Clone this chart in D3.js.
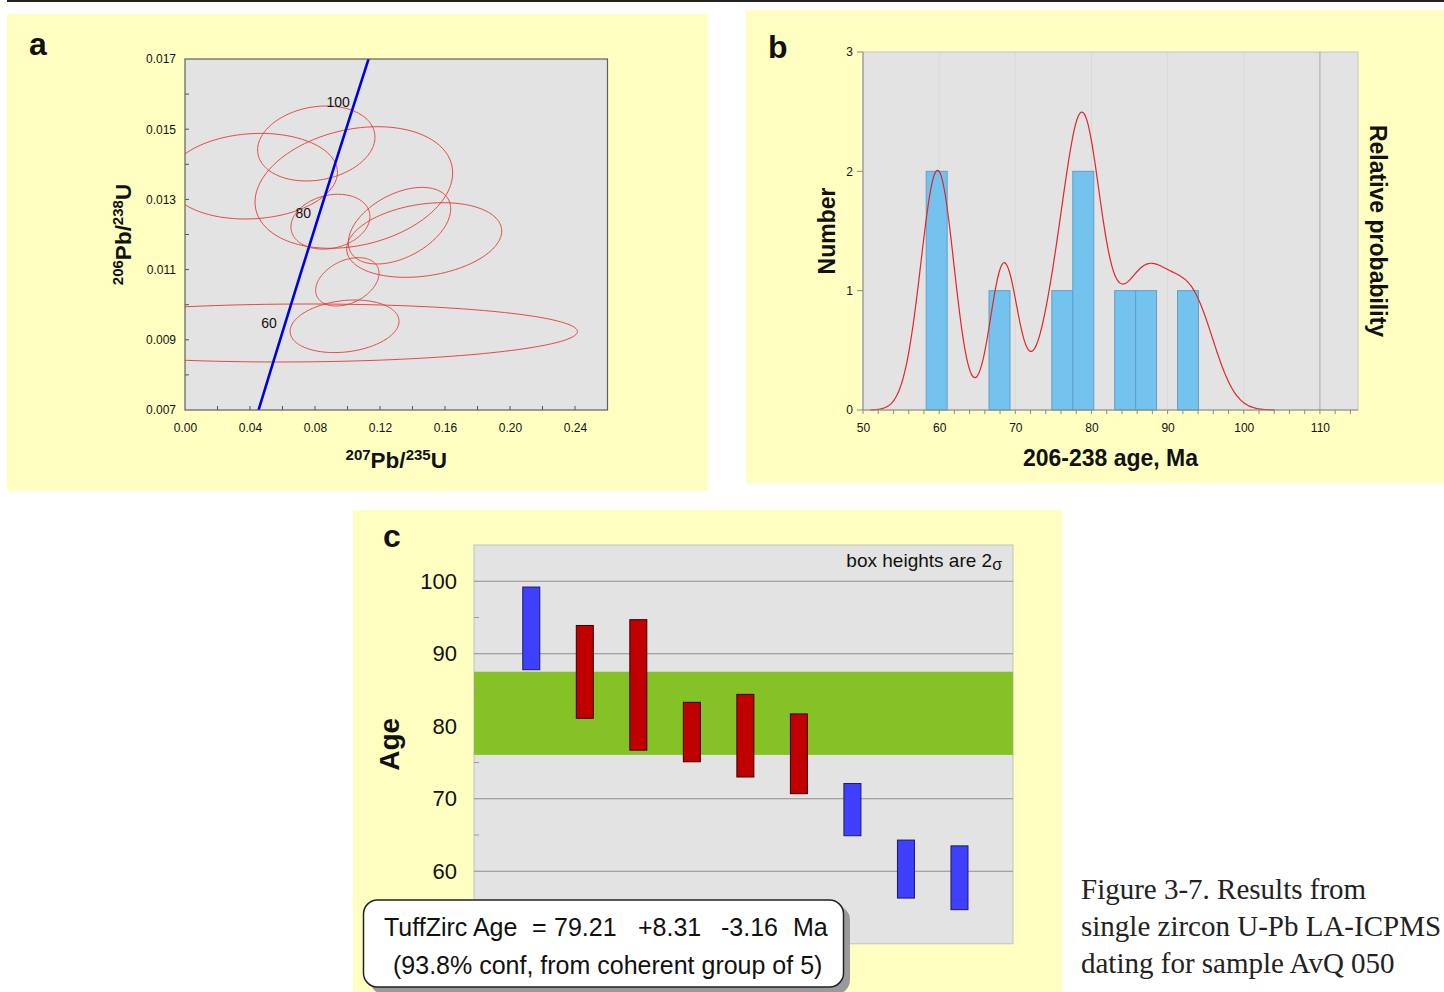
<!DOCTYPE html>
<html>
<head>
<meta charset="utf-8">
<script src="https://cdn.jsdelivr.net/npm/d3@7"></script>
<style>
  body { margin: 0; background: #ffffff; }
  svg { display: block; }
</style>
</head>
<body>
<svg id="fig" width="1444" height="992"></svg>
<script>
// ---------- Panel a: concordia diagram ----------
// Concordia reference points: age (Ma), 207Pb/235U, 206Pb/238U
const concAges = [40, 50, 60, 70, 80, 90, 100, 110];
const concX = [0.040180, 0.050475, 0.060872, 0.071371, 0.081975, 0.092683, 0.103498, 0.114419];
const concY = [0.0062243, 0.0077864, 0.0093510, 0.0109179, 0.0124873, 0.0140592, 0.0156334, 0.0172102];
const concLabelAges = [60, 80, 100];

// Zircon analyses: ratio, error half-widths and error correlation
const pb207u235 = [0.0808, 0.1039, 0.0418, 0.0895, 0.1320, 0.1472, 0.0999, 0.0982, 0.0670];
const err207    = [0.0361, 0.0608, 0.0520, 0.0243, 0.0315, 0.0477, 0.0195, 0.0335, 0.1745];
const pb206u238 = [0.014593, 0.013339, 0.013661, 0.012365, 0.012251, 0.011843, 0.010652, 0.009385, 0.009194];
const err206    = [0.001068, 0.001732, 0.001219, 0.000781, 0.001091, 0.001063, 0.000689, 0.000749, 0.000826];
const rhoVals   = [0.17, 0.24, 0.09, 0.19, 0.44, 0.24, 0.35, 0.19, 0.05];

const aXTickLabels = [0.00, 0.04, 0.08, 0.12, 0.16, 0.20, 0.24];
const aYTickLabels = [0.007, 0.009, 0.011, 0.013, 0.015, 0.017];

// ---------- Panel b / c: single-grain 206/238 ages ----------
const grainAges  = [93.5, 87.5, 85.7, 79.2, 78.7, 76.2, 68.5, 60.3, 59.1];
const grainErr2s = [5.7, 6.4, 9.0, 4.1, 5.7, 5.5, 3.6, 4.0, 4.4];
const inGroup    = [false, true, true, true, true, true, false, false, false];

const binStart = 58.3;
const binWidth = 2.75;
const bXTickLabels = [50, 60, 70, 80, 90, 100, 110];
const bYTickLabels = [0, 1, 2, 3];

// TuffZirc result
const tuffAge = 79.21;
const tuffPlus = 8.31;
const tuffMinus = 3.16;
const tuffConf = 93.8;
const groupSize = 5;
const cYTickLabels = [60, 70, 80, 90, 100];

const captionLines = [
  "Figure 3-7. Results from",
  "single zircon U-Pb LA-ICPMS",
  "dating for sample AvQ 050"
];

// ---------- drawing ----------
const SANS = '"Liberation Sans", Arial, Helvetica, sans-serif';
const SERIF = '"Liberation Serif", "Times New Roman", serif';
const YELLOW = "#ffffc2";
const PLOTBG = "#e3e3e3";

const svg = d3.select("#fig");
svg.append("rect").attr("width", 1444).attr("height", 992).attr("fill", "#ffffff");
svg.append("rect").attr("x", 7).attr("y", 0).attr("width", 1437).attr("height", 2).attr("fill", "#222222");

const defs = svg.append("defs");

// ===== Panel a =====
const pa = svg.append("g");
pa.append("rect").attr("x", 7).attr("y", 14).attr("width", 701).attr("height", 477).attr("fill", YELLOW);

const ax = d3.scaleLinear().domain([0, 0.26]).range([185, 607.5]);
const ay = d3.scaleLinear().domain([0.007, 0.017]).range([410, 59]);

defs.append("clipPath").attr("id", "clipA").append("rect")
  .attr("x", ax(0)).attr("y", ay(0.017))
  .attr("width", ax(0.26) - ax(0)).attr("height", ay(0.007) - ay(0.017));

pa.append("rect")
  .attr("x", ax(0)).attr("y", ay(0.017))
  .attr("width", ax(0.26) - ax(0)).attr("height", ay(0.007) - ay(0.017))
  .attr("fill", PLOTBG);

// error ellipses
function ellipsePoints(i) {
  const r = rhoVals[i], q = Math.sqrt(1 - r * r);
  return d3.range(0, 360, 2).map(deg => {
    const t = deg * Math.PI / 180;
    return [
      ax(pb207u235[i] + err207[i] * Math.cos(t)),
      ay(pb206u238[i] + err206[i] * (r * Math.cos(t) + q * Math.sin(t)))
    ];
  });
}
const ellLine = d3.line().curve(d3.curveLinearClosed);
const clipA = pa.append("g").attr("clip-path", "url(#clipA)");
clipA.selectAll("path.ell").data(d3.range(pb207u235.length)).join("path")
  .attr("class", "ell")
  .attr("d", i => ellLine(ellipsePoints(i)))
  .attr("fill", "none")
  .attr("stroke", "#e23a34")
  .attr("stroke-width", 1)
  .attr("stroke-opacity", 0.9);

// concordia curve
const concLine = d3.line().x((d, i) => ax(concX[i])).y((d, i) => ay(concY[i])).curve(d3.curveCatmullRom);
clipA.append("path").datum(concAges)
  .attr("d", concLine)
  .attr("fill", "none")
  .attr("stroke", "#0000e6")
  .attr("stroke-width", 2.6);

pa.selectAll("text.age").data(concLabelAges).join("text")
  .attr("class", "age")
  .attr("x", a => ax(concX[concAges.indexOf(a)]) - 15)
  .attr("y", a => ay(concY[concAges.indexOf(a)]) + 0.5)
  .attr("text-anchor", "middle")
  .attr("font-family", SANS).attr("font-size", 14).attr("fill", "#111")
  .text(d => d);

// inward ticks
pa.append("g").selectAll("line").data(d3.range(1, 13).map(k => k * 0.02)).join("line")
  .attr("x1", d => ax(d)).attr("x2", d => ax(d))
  .attr("y1", ay(0.007)).attr("y2", ay(0.007) - 4)
  .attr("stroke", "#555").attr("stroke-width", 1);
pa.append("g").selectAll("line").data(d3.range(1, 10).map(k => 0.007 + k * 0.001)).join("line")
  .attr("x1", ax(0)).attr("x2", ax(0) + 4)
  .attr("y1", d => ay(d)).attr("y2", d => ay(d))
  .attr("stroke", "#555").attr("stroke-width", 1);

pa.append("rect")
  .attr("x", ax(0)).attr("y", ay(0.017))
  .attr("width", ax(0.26) - ax(0)).attr("height", ay(0.007) - ay(0.017))
  .attr("fill", "none").attr("stroke", "#606060").attr("stroke-width", 1.2);

const aXAxis = pa.append("g").attr("transform", `translate(0,${ay(0.007)})`)
  .call(d3.axisBottom(ax).tickValues(aXTickLabels).tickSize(0).tickPadding(13).tickFormat(d3.format(".2f")));
const aYAxis = pa.append("g").attr("transform", `translate(${ax(0)},0)`)
  .call(d3.axisLeft(ay).tickValues(aYTickLabels).tickSize(0).tickPadding(9).tickFormat(d3.format(".3f")));
[aXAxis, aYAxis].forEach(g => {
  g.select(".domain").remove();
  g.selectAll("text").attr("font-family", SANS).attr("font-size", 12).attr("fill", "#111");
});

// axis titles with isotope superscripts
function isotopeTitle(g, sup1, el1, sup2, el2) {
  const t = g.append("text").attr("font-family", SANS).attr("font-weight", "bold").attr("fill", "#111");
  t.append("tspan").attr("font-size", 15).attr("baseline-shift", "55%").text(sup1);
  t.append("tspan").attr("font-size", 22.5).text(el1 + "/");
  t.append("tspan").attr("font-size", 15).attr("baseline-shift", "55%").text(sup2);
  t.append("tspan").attr("font-size", 22.5).text(el2);
  return t;
}
isotopeTitle(pa, "207", "Pb", "235", "U")
  .attr("x", (ax(0) + ax(0.26)) / 2).attr("y", 468).attr("text-anchor", "middle");
isotopeTitle(pa, "206", "Pb", "238", "U")
  .attr("text-anchor", "middle")
  .attr("transform", `translate(131,${(ay(0.007) + ay(0.017)) / 2}) rotate(-90)`);

pa.append("text").attr("x", 29).attr("y", 55)
  .attr("font-family", SANS).attr("font-weight", "bold").attr("font-size", 32).attr("fill", "#111")
  .text("a");

// ===== Panel b =====
const pb = svg.append("g");
pb.append("rect").attr("x", 746).attr("y", 10).attr("width", 698).attr("height", 473).attr("fill", YELLOW);

const bx = d3.scaleLinear().domain([50, 115]).range([863, 1358]);
const by = d3.scaleLinear().domain([0, 3]).range([410, 52]);

pb.append("rect")
  .attr("x", bx(50)).attr("y", by(3))
  .attr("width", bx(115) - bx(50)).attr("height", by(0) - by(3))
  .attr("fill", PLOTBG).attr("stroke", "#c4c4c4").attr("stroke-width", 1);

// vertical grid
pb.append("g").selectAll("line").data(bXTickLabels.slice(1)).join("line")
  .attr("x1", d => bx(d)).attr("x2", d => bx(d))
  .attr("y1", by(0)).attr("y2", by(3))
  .attr("stroke", d => d === 110 ? "#a8a8a8" : "#d9d9d9")
  .attr("stroke-width", 1);

// histogram of grain ages
const thresholds = d3.range(0, 16).map(k => binStart + k * binWidth);
const bins = d3.bin().domain([thresholds[0], thresholds[thresholds.length - 1]]).thresholds(thresholds)(grainAges)
  .filter(b => b.length > 0);
pb.append("g").selectAll("rect").data(bins).join("rect")
  .attr("x", b => bx(b.x0)).attr("width", b => bx(b.x1) - bx(b.x0))
  .attr("y", b => by(b.length)).attr("height", b => by(0) - by(b.length))
  .attr("fill", "#74c3ee").attr("stroke", "#5f9fc6").attr("stroke-width", 1);

// probability density from ages and 1-sigma errors
const sigmas = grainErr2s.map(e => e / 2);
const pdf = a => d3.sum(grainAges, (m, i) =>
  Math.exp(-0.5 * ((a - m) / sigmas[i]) ** 2) / (sigmas[i] * Math.sqrt(2 * Math.PI)));
const pdfAges = d3.range(51, 104.01, 0.25);
const pdfVals = pdfAges.map(pdf);
const pdfMax = d3.max(pdfVals);
const byProb = d3.scaleLinear().domain([0, pdfMax * 3 / 2.5]).range([410, 52]);
pb.append("path").datum(pdfAges)
  .attr("d", d3.line().x(a => bx(a)).y((a, i) => byProb(pdfVals[i])).curve(d3.curveBasis))
  .attr("fill", "none").attr("stroke", "#e0262b").attr("stroke-width", 1.2);

// axes
pb.append("line").attr("x1", bx(50)).attr("x2", bx(115)).attr("y1", by(0)).attr("y2", by(0))
  .attr("stroke", "#8a8a8a").attr("stroke-width", 1);
pb.append("line").attr("x1", bx(50)).attr("x2", bx(50)).attr("y1", by(0)).attr("y2", by(3))
  .attr("stroke", "#8a8a8a").attr("stroke-width", 1);
pb.append("g").selectAll("line").data(d3.range(0, 33).map(k => 50 + 2 * k)).join("line")
  .attr("x1", d => bx(d)).attr("x2", d => bx(d))
  .attr("y1", by(0)).attr("y2", by(0) + 4)
  .attr("stroke", "#8a8a8a").attr("stroke-width", 1);
pb.append("g").selectAll("line").data(bYTickLabels).join("line")
  .attr("x1", bx(50) - 6).attr("x2", bx(50))
  .attr("y1", d => by(d)).attr("y2", d => by(d))
  .attr("stroke", "#8a8a8a").attr("stroke-width", 1);

const bXAxis = pb.append("g").attr("transform", `translate(0,${by(0)})`)
  .call(d3.axisBottom(bx).tickValues(bXTickLabels).tickSize(0).tickPadding(13).tickFormat(d3.format("d")));
const bYAxis = pb.append("g").attr("transform", `translate(${bx(50)},0)`)
  .call(d3.axisLeft(by).tickValues(bYTickLabels).tickSize(0).tickPadding(10).tickFormat(d3.format("d")));
[bXAxis, bYAxis].forEach(g => {
  g.select(".domain").remove();
  g.selectAll("text").attr("font-family", SANS).attr("font-size", 12).attr("fill", "#111");
});

pb.append("text").attr("x", (bx(50) + bx(115)) / 2).attr("y", 466)
  .attr("text-anchor", "middle")
  .attr("font-family", SANS).attr("font-weight", "bold").attr("font-size", 23).attr("fill", "#111")
  .text("206-238 age, Ma");
pb.append("text")
  .attr("transform", `translate(835,${(by(0) + by(3)) / 2}) rotate(-90)`)
  .attr("text-anchor", "middle")
  .attr("font-family", SANS).attr("font-weight", "bold").attr("font-size", 23).attr("fill", "#111")
  .text("Number");
pb.append("text")
  .attr("transform", `translate(1370,${(by(0) + by(3)) / 2}) rotate(90)`)
  .attr("text-anchor", "middle")
  .attr("font-family", SANS).attr("font-weight", "bold").attr("font-size", 23).attr("fill", "#111")
  .text("Relative probability");

pb.append("text").attr("x", 768).attr("y", 58)
  .attr("font-family", SANS).attr("font-weight", "bold").attr("font-size", 32).attr("fill", "#111")
  .text("b");

// ===== Panel c =====
const pc = svg.append("g");
pc.append("rect").attr("x", 353).attr("y", 510).attr("width", 709).attr("height", 482).attr("fill", YELLOW);

const cx = d3.scaleLinear().domain([-0.07, 10]).range([474, 1013]);
const cy = d3.scaleLinear().domain([50, 105]).range([943.75, 545]);

pc.append("rect")
  .attr("x", cx(-0.07)).attr("y", cy(105))
  .attr("width", cx(10) - cx(-0.07)).attr("height", cy(50) - cy(105))
  .attr("fill", PLOTBG).attr("stroke", "#c2c2c2").attr("stroke-width", 1);

pc.append("g").selectAll("line").data(cYTickLabels).join("line")
  .attr("x1", cx(-0.07)).attr("x2", cx(10))
  .attr("y1", d => cy(d)).attr("y2", d => cy(d))
  .attr("stroke", "#8e8e8e").attr("stroke-width", 1);

pc.append("rect")
  .attr("x", cx(-0.07)).attr("width", cx(10) - cx(-0.07))
  .attr("y", cy(tuffAge + tuffPlus)).attr("height", cy(tuffAge - tuffMinus) - cy(tuffAge + tuffPlus))
  .attr("fill", "#85c226");

pc.append("g").selectAll("line").data([55, 65, 75, 85, 95]).join("line")
  .attr("x1", cx(-0.07)).attr("x2", cx(-0.07) + 5)
  .attr("y1", d => cy(d)).attr("y2", d => cy(d))
  .attr("stroke", "#9a9a9a").attr("stroke-width", 1);

pc.append("g").selectAll("rect").data(d3.range(grainAges.length)).join("rect")
  .attr("x", i => cx(i + 1) - 8.5).attr("width", 17)
  .attr("y", i => cy(grainAges[i] + grainErr2s[i]))
  .attr("height", i => cy(grainAges[i] - grainErr2s[i]) - cy(grainAges[i] + grainErr2s[i]))
  .attr("fill", i => inGroup[i] ? "#c00000" : "#3f3fff")
  .attr("stroke", i => inGroup[i] ? "#3a0000" : "#1c1c5c")
  .attr("stroke-width", 1);

const cYAxis = pc.append("g").attr("transform", `translate(${cx(-0.07)},0)`)
  .call(d3.axisLeft(cy).tickValues(cYTickLabels).tickSize(0).tickPadding(17));
cYAxis.select(".domain").remove();
cYAxis.selectAll("text").attr("font-family", SANS).attr("font-size", 22).attr("fill", "#111");

pc.append("text")
  .attr("transform", `translate(399,${(cy(50) + cy(105)) / 2}) rotate(-90)`)
  .attr("text-anchor", "middle")
  .attr("font-family", SANS).attr("font-weight", "bold").attr("font-size", 28).attr("fill", "#111")
  .text("Age");

const note = pc.append("text").attr("x", 1002).attr("y", 567).attr("text-anchor", "end")
  .attr("font-family", SANS).attr("font-size", 19).attr("fill", "#111");
note.append("tspan").text("box heights are 2");
note.append("tspan").attr("font-size", 16).attr("dy", 3).text("σ");

// result label
pc.append("rect").attr("x", 370).attr("y", 906).attr("width", 480).attr("height", 88).attr("rx", 14)
  .attr("fill", "#9a9a9a");
pc.append("rect").attr("x", 363.5).attr("y", 900).attr("width", 480).attr("height", 87).attr("rx", 14)
  .attr("fill", "#ffffff").attr("stroke", "#222").attr("stroke-width", 1.5);

const line1 = [
  ["TuffZirc Age", 384],
  ["=", 532],
  [tuffAge.toFixed(2), 554],
  ["+" + tuffPlus.toFixed(2), 638],
  ["-" + tuffMinus.toFixed(2), 721],
  ["Ma", 793]
];
pc.append("g").selectAll("text").data(line1).join("text")
  .attr("x", d => d[1]).attr("y", 936)
  .attr("font-family", SANS).attr("font-size", 25).attr("fill", "#111")
  .text(d => d[0]);
pc.append("text").attr("x", 393).attr("y", 974)
  .attr("font-family", SANS).attr("font-size", 25).attr("fill", "#111")
  .text(`(${tuffConf}% conf, from coherent group of ${groupSize})`);

pc.append("text").attr("x", 383).attr("y", 547)
  .attr("font-family", SANS).attr("font-weight", "bold").attr("font-size", 32).attr("fill", "#111")
  .text("c");

// ===== caption =====
svg.append("g").selectAll("text").data(captionLines).join("text")
  .attr("x", 1081).attr("y", (d, i) => 899 + i * 37)
  .attr("font-family", SERIF).attr("font-size", 29).attr("fill", "#222")
  .text(d => d);
</script>
</body>
</html>
